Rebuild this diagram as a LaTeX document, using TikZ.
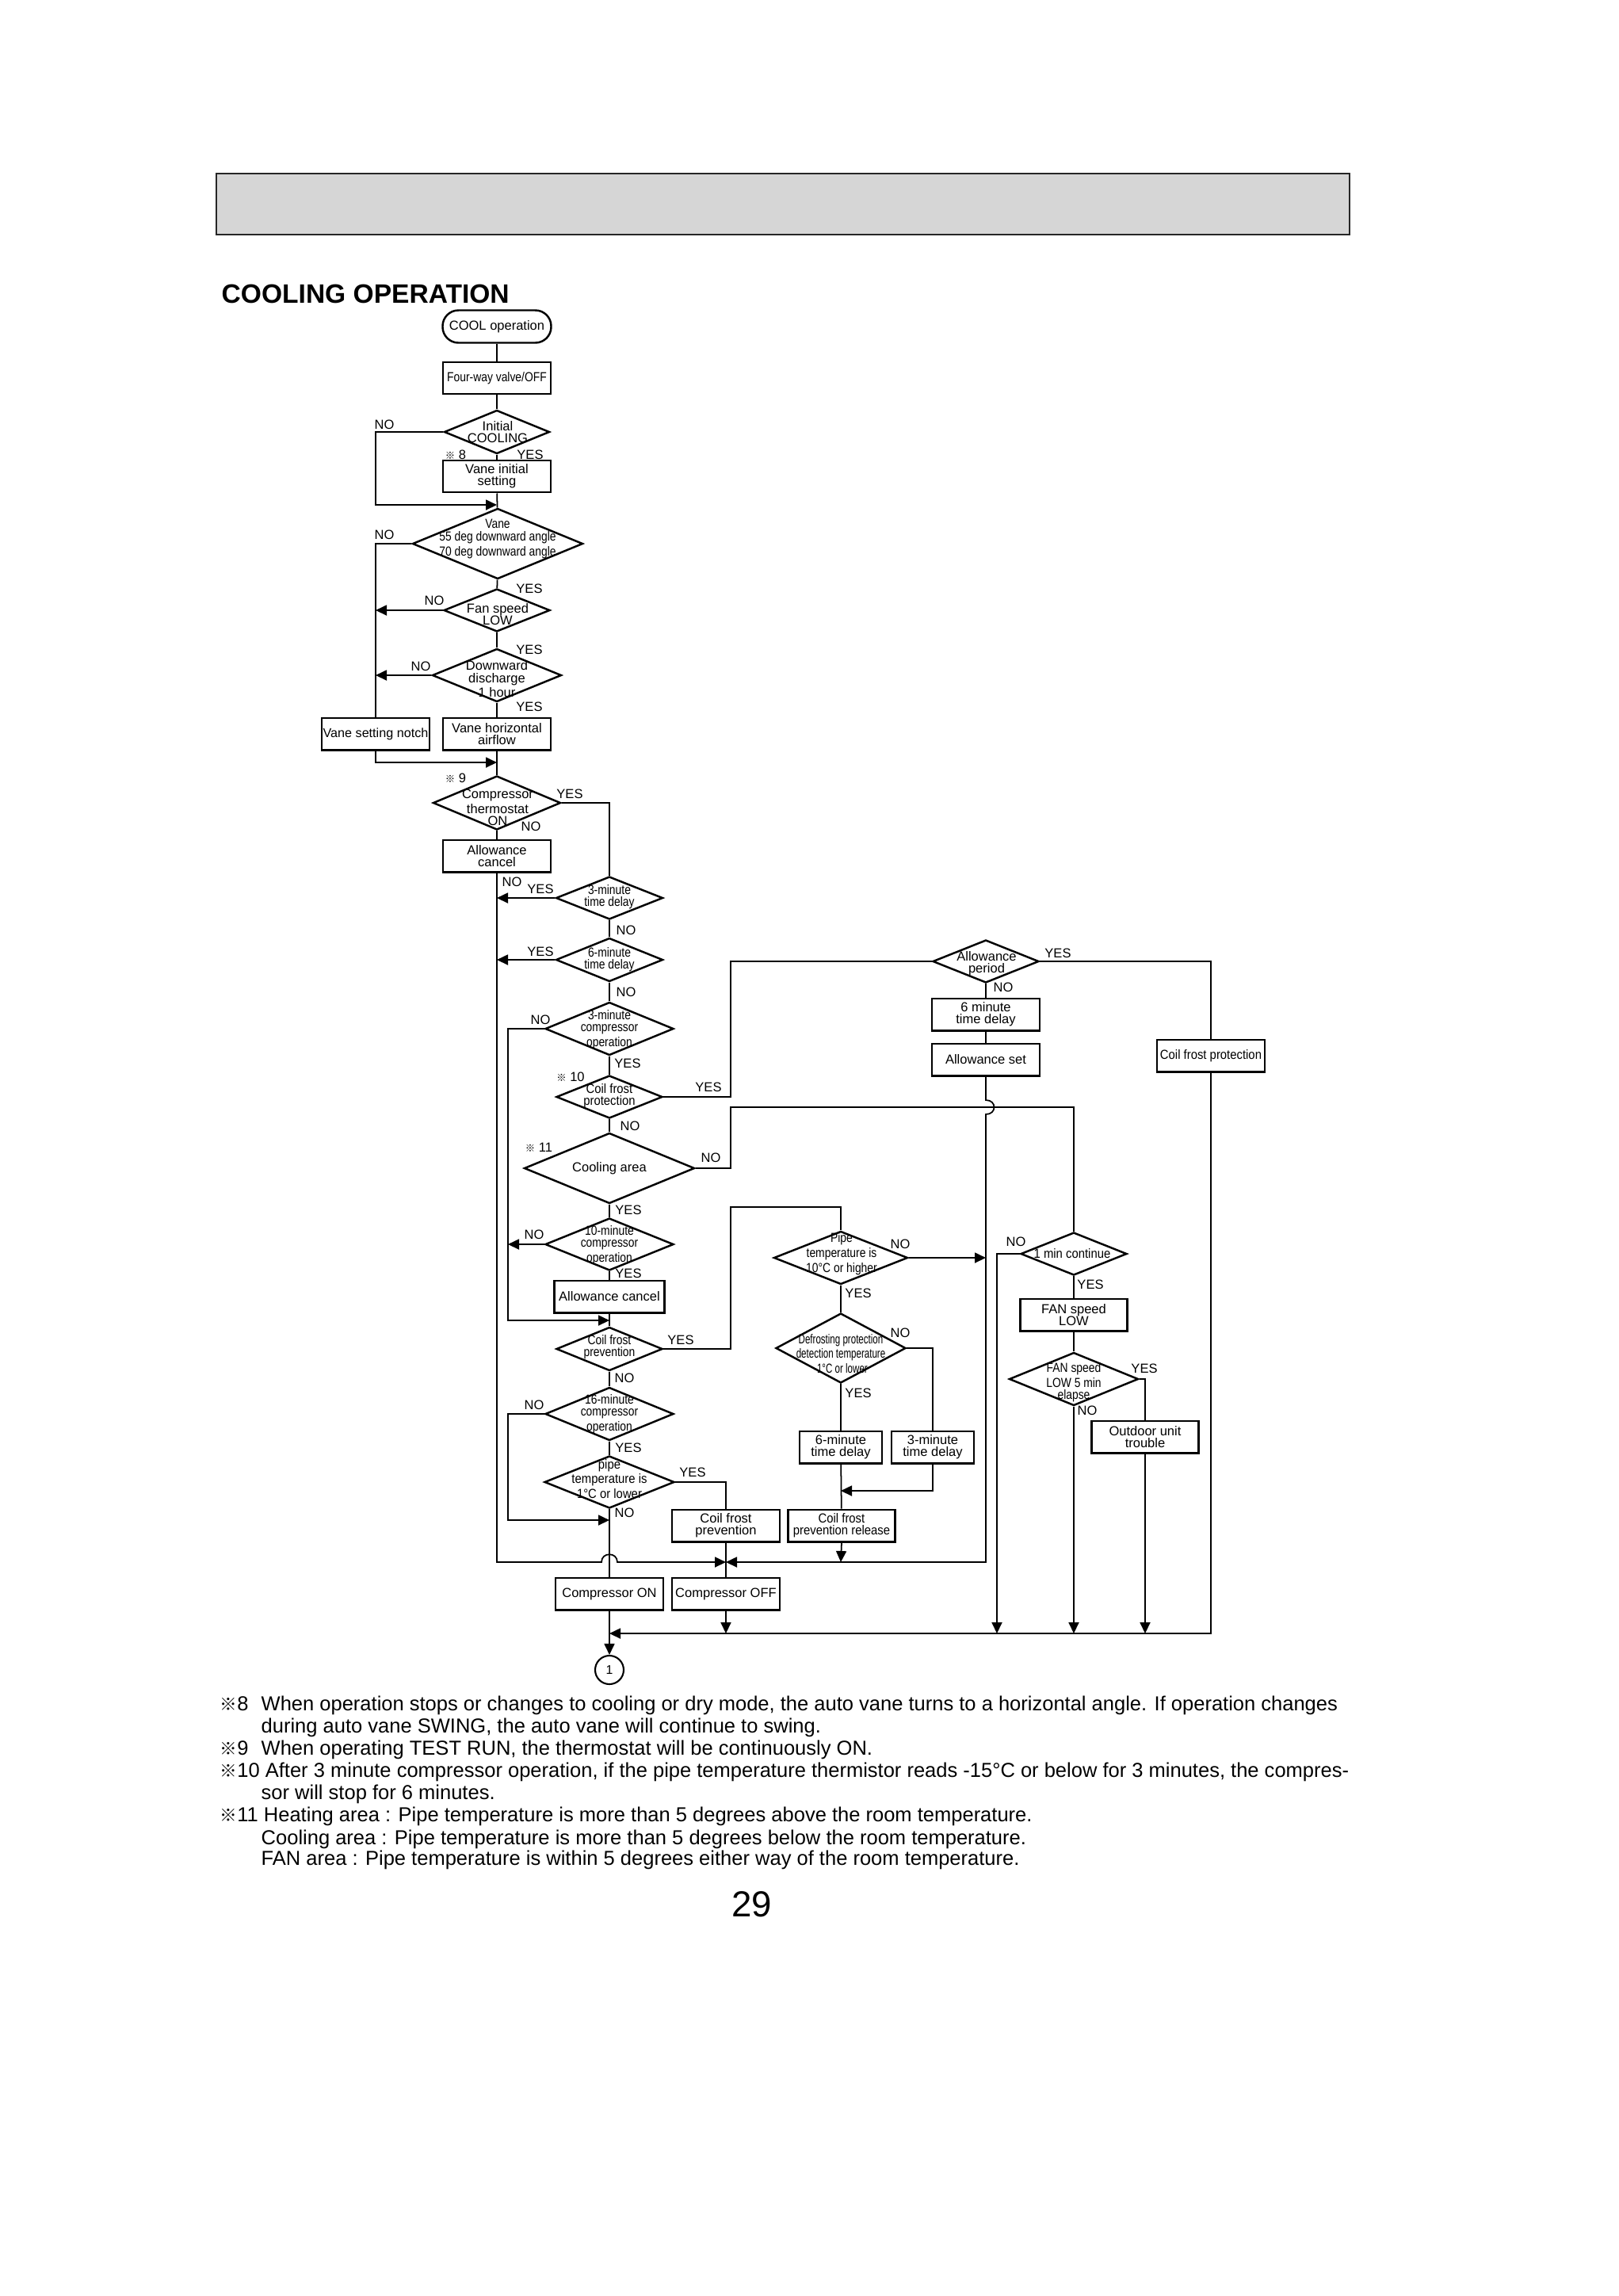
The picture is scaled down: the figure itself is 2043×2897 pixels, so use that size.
\documentclass[tikz,border=0pt]{standalone}
\usepackage{fontspec}
\setmainfont{Liberation Sans}
\newfontfamily\fcA[FakeStretch=0.84]{Liberation Sans}
\newfontfamily\fcB[FakeStretch=0.9]{Liberation Sans}
\newfontfamily\fcC[FakeStretch=0.7]{Liberation Sans}
\newfontfamily\cjkf[Scale=0.75]{Noto Sans CJK JP}
\newfontfamily\cjkg[Scale=0.85]{Noto Sans CJK JP}
\usetikzlibrary{shapes.geometric,arrows.meta}
\newcommand\fsz{\fontsize{4.7}{4.3}\selectfont}
\newcommand\kome{{\cjkf ※}}
\newcommand\komeF{{\cjkg ※}}
\newcommand\lab[3]{\node[txt] (#1) at (#2) {#3};}
\tikzset{
  box/.style={draw, line width=0.7pt, minimum width=13.6mm, minimum height=4.05mm, inner sep=0pt},
  dia/.style={draw, diamond, line width=0.7pt, inner sep=0pt},
  txt/.style={inner sep=0pt, align=center, font=\fsz},
  conn/.style={line width=0.5pt},
  arr/.style={line width=0.5pt, -{Triangle[length=1.4mm,width=1.3mm]}},
  foot/.style={inner sep=0pt, anchor=base west, font=\fontsize{7.26}{7.9}\selectfont},
}
\begin{document}
\begin{tikzpicture}[x=0.1mm,y=-0.1mm]
\fill[white] (0,0) rectangle (2043,2897);
\useasboundingbox (0,0) rectangle (2043,2897);

% header
\node[draw=black!85, line width=0.7pt, fill=black!16, minimum width=143mm, minimum height=7.7mm, inner sep=0pt] (header) at (988,257.5) {};
\node[inner sep=0pt, anchor=base west, font=\fontsize{9.55}{11}\selectfont\bfseries] (title) at (279,382) {COOLING OPERATION};

% top chain
\node[box,txt,rounded corners=2mm,minimum width=13.7mm,minimum height=4.1mm] (cool) at (627,412) {COOL operation};
\node[box,txt,font=\fsz\fcA] (fourway) at (627,477) {Four-way valve/OFF};
\node[dia,minimum width=13.3mm,minimum height=5.5mm] (init) at (627,545) {};
\node[txt] (initT) at (628,545) {Initial\\COOLING};
\node[box,txt] (vaneinit) at (627,601) {Vane initial\\setting};
\node[dia,minimum width=21.5mm,minimum height=8.9mm] (vane) at (628,686) {};
\node[txt,font=\fsz\fcA] (vaneT) at (628,680) {Vane\\55 deg downward angle\\70 deg downward angle};
\node[dia,minimum width=13.4mm,minimum height=5.4mm] (fan) at (627,770) {};
\node[txt] (fanT) at (628,775) {Fan speed\\LOW};
\node[dia,minimum width=16.3mm,minimum height=6.7mm] (down) at (627,852) {};
\node[txt] (downT) at (627,857) {Downward\\discharge\\1 hour};
\node[box,txt] (vhor) at (627,926) {Vane horizontal\\airflow};
\node[box,txt,font=\fontsize{4.6}{4.3}\selectfont] (vnotch) at (474,926) {Vane setting notch};
\node[dia,minimum width=16.1mm,minimum height=6.8mm] (comp) at (627,1013) {};
\node[txt] (compT) at (628,1019) {Compressor\\thermostat\\ON};
\node[box,txt] (allc1) at (627,1080) {Allowance\\cancel};

% middle chain
\node[dia,minimum width=13.5mm,minimum height=5.4mm] (t3) at (769,1133) {};
\node[txt,font=\fsz\fcA] (t3T) at (769,1132) {3-minute\\time delay};
\node[dia,minimum width=13.5mm,minimum height=5.5mm] (t6) at (769,1211) {};
\node[txt,font=\fsz\fcA] (t6T) at (769,1211) {6-minute\\time delay};
\node[dia,minimum width=16.2mm,minimum height=6.7mm] (c3) at (769,1298) {};
\node[txt,font=\fsz\fcA] (c3T) at (769,1299) {3-minute\\compressor\\operation};
\node[dia,minimum width=13.4mm,minimum height=5.4mm] (cfp) at (769,1384) {};
\node[txt,font=\fsz\fcB] (cfpT) at (769,1383) {Coil frost\\protection};
\node[dia,minimum width=21.5mm,minimum height=8.9mm] (carea) at (769,1474) {};
\node[txt] (careaT) at (769,1474) {Cooling area};
\node[dia,minimum width=16.2mm,minimum height=6.6mm] (c10) at (769,1570) {};
\node[txt,font=\fsz\fcA] (c10T) at (769,1571) {10-minute\\compressor\\operation};
\node[box,txt,minimum width=13.9mm] (allc2) at (769,1636) {Allowance cancel};
\node[dia,minimum width=13.4mm,minimum height=5.5mm] (cfprev) at (769,1702) {};
\node[txt,font=\fsz\fcA] (cfprevT) at (769,1700) {Coil frost\\prevention};
\node[dia,minimum width=16.2mm,minimum height=6.7mm] (c16) at (769,1784) {};
\node[txt,font=\fsz\fcA] (c16T) at (769,1784) {16-minute\\compressor\\operation};
\node[dia,minimum width=16.4mm,minimum height=6.6mm] (pipe1) at (769,1870) {};
\node[txt,font=\fsz\fcB] (pipe1T) at (769,1866) {pipe\\temperature is\\1°C or lower};
\node[box,txt] (compon) at (769,2011) {Compressor ON};
\node[box,txt] (compoff) at (916,2011) {Compressor OFF};
\node[draw,circle,line width=0.6pt,minimum size=3.6mm,inner sep=0pt,font=\fontsize{4.5}{5}\selectfont] (circ) at (769,2107) {1};

% right part
\node[box,txt] (cfprevbox) at (916,1925) {Coil frost\\prevention};
\node[dia,minimum width=16.9mm,minimum height=6.7mm] (pipe10) at (1061,1587) {};
\node[txt,font=\fsz\fcA] (pipe10T) at (1062,1582) {Pipe\\temperature is\\10°C or higher};
\node[dia,minimum width=16.4mm,minimum height=8.8mm] (defrost) at (1061,1701) {};
\node[txt,font=\fsz\fcC] (defrostT) at (1061,1708) {Defrosting protection\\detection temperature\\-1°C or lower};
\node[box,txt,minimum width=10.4mm] (d6) at (1061,1826) {6-minute\\time delay};
\node[box,txt,minimum width=10.4mm] (d3) at (1177,1826) {3-minute\\time delay};
\node[box,txt,minimum width=13.5mm,font=\fsz\fcB] (cfrel) at (1062,1925) {Coil frost\\prevention release};
\node[dia,minimum width=13.4mm,minimum height=5.4mm] (allp) at (1244,1213) {};
\node[txt] (allpT) at (1245,1216) {Allowance\\period};
\node[box,txt] (d6m) at (1244,1280) {6 minute\\time delay};
\node[box,txt] (allset) at (1244,1337) {Allowance set};
\node[box,txt,font=\fsz\fcB] (cfpbox) at (1528,1332) {Coil frost protection};
\node[dia,minimum width=13.4mm,minimum height=5.4mm] (min1) at (1355,1582) {};
\node[txt,font=\fsz\fcB] (min1T) at (1353,1582) {1 min continue};
\node[box,txt,minimum width=13.5mm] (fanlow) at (1355,1659) {FAN speed\\LOW};
\node[dia,minimum width=16.3mm,minimum height=6.7mm] (fan5) at (1355,1740) {};
\node[txt,font=\fsz\fcA] (fan5T) at (1355,1744) {FAN speed\\LOW 5 min\\elapse};
\node[box,txt,minimum width=13.5mm] (outdoor) at (1445,1813) {Outdoor unit\\trouble};

% coordinates
\coordinate (m1) at (627,637);
\coordinate (jA) at (474,637);
\coordinate (m2) at (627,962);
\coordinate (mOff) at (916,1971);
\coordinate (bumpA) at (759,1971);
\coordinate (bumpB) at (779,1971);
\coordinate (cL1) at (641,1666);
\coordinate (m3) at (769,1666);
\coordinate (cL2) at (641,1918);
\coordinate (m4) at (769,1918);
\coordinate (colR) at (922,1213);
\coordinate (colR2) at (922,1397);
\coordinate (colR2b) at (1355,1397);
\coordinate (colR3) at (922,1523);
\coordinate (botR) at (1528,2061);
\coordinate (botL) at (769,2061);
\coordinate (jmpA) at (1244,1388);
\coordinate (jmpB) at (1244,1406);
\coordinate (mR) at (1244,1971);
\coordinate (pR) at (1244,1587);
\coordinate (mRel) at (1061,1971);
\coordinate (m5) at (1061,1881);
\coordinate (b1) at (1258,2061);

% connectors top
\draw[conn] (cool) -- (fourway);
\draw[conn] (fourway) -- (init);
\draw[conn] (init) -- (vaneinit);
\draw[conn] (vaneinit) -- (vane);
\draw[arr] (init.west) -| (jA) -- (m1);
\draw[conn] (vane) -- (fan);
\draw[conn] (fan) -- (down);
\draw[conn] (down) -- (vhor);
\draw[conn] (vane.west) -| (vnotch.north);
\draw[arr] (fan.west) -- (fan.west -| vnotch.north);
\draw[arr] (down.west) -- (down.west -| vnotch.north);
\draw[arr] (vnotch.south) |- (m2);
\draw[conn] (vhor) -- (comp);
\draw[conn] (comp) -- (allc1);
\draw[conn] (comp.east) -| (t3.north);
\draw[arr] (t3.west) -- (t3.west -| allc1.south);
\draw[arr] (t6.west) -- (t6.west -| allc1.south);
\draw[arr] (allc1.south) |- (bumpA) .. controls (759,1958) and (779,1958) .. (bumpB) -- (mOff);

% middle connectors
\draw[conn] (t3) -- (t6);
\draw[conn] (t6) -- (c3);
\draw[conn] (c3) -- (cfp);
\draw[conn] (cfp) -- (carea);
\draw[conn] (carea) -- (c10);
\draw[conn] (c10) -- (allc2);
\draw[conn] (allc2) -- (cfprev);
\draw[conn] (cfprev) -- (c16);
\draw[conn] (c16) -- (pipe1);
\draw[conn] (pipe1) -- (compon);
\draw[arr] (c3.west) -| (cL1) -- (m3);
\draw[arr] (c10.west) -- (c10.west -| cL1);
\draw[arr] (c16.west) -| (cL2) -- (m4);
\draw[conn] (cfp.east) -| (colR) -- (allp.west);
\draw[conn] (carea.east) -| (colR2) -- (colR2b) -- (min1.north);
\draw[conn] (cfprev.east) -| (colR3) -| (pipe10.north);
\draw[conn] (pipe1.east) -| (cfprevbox.north);
\draw[conn] (cfprevbox.south) -- (mOff) -- (compoff.north);
\draw[arr] (compoff.south) -- (compoff.south |- botL);
\draw[arr] (compon.south) -- (circ.north);
\draw[arr] (cfpbox.south) -- (botR) -- (botL);

% right connectors
\draw[conn] (allp.east) -| (cfpbox.north);
\draw[conn] (allp) -- (d6m);
\draw[conn] (d6m) -- (allset);
\draw[arr] (allset.south) -- (jmpA) .. controls (1258,1388) and (1258,1406) .. (jmpB) -- (mR) -- (mOff);
\draw[arr] (pipe10.east) -- (pR);
\draw[conn] (pipe10) -- (defrost);
\draw[conn] (defrost) -- (d6);
\draw[conn] (d6) -- (cfrel);
\draw[arr] (cfrel.south) -- (mRel);
\draw[conn] (defrost.east) -| (d3.north);
\draw[arr] (d3.south) |- (m5);
\draw[arr] (min1.west) -| (b1);
\draw[conn] (min1) -- (fanlow);
\draw[conn] (fanlow) -- (fan5);
\draw[arr] (fan5.south) -- (fan5.south |- botR);
\draw[conn] (fan5.east) -| (outdoor.north);
\draw[arr] (outdoor.south) -- (outdoor.south |- botR);

% labels
\lab{l1}{485,536}{NO}
\lab{l2}{575,574}{\kome\ 8}
\lab{l3}{669,574}{YES}
\lab{l4}{485,675}{NO}
\lab{l5}{668,743}{YES}
\lab{l6}{548,758}{NO}
\lab{l7}{668,820}{YES}
\lab{l8}{531,841}{NO}
\lab{l9}{668,892}{YES}
\lab{l10}{575,982}{\kome\ 9}
\lab{l11}{719,1002}{YES}
\lab{l12}{670,1043}{NO}
\lab{l13}{646,1113}{NO}
\lab{l14}{682,1122}{YES}
\lab{l15}{790,1174}{NO}
\lab{l16}{682,1201}{YES}
\lab{l17}{790,1252}{NO}
\lab{l18}{682,1287}{NO}
\lab{l19}{792,1342}{YES}
\lab{l20}{720,1359}{\kome\ 10}
\lab{l21}{894,1372}{YES}
\lab{l22}{795,1421}{NO}
\lab{l23}{680,1448}{\kome\ 11}
\lab{l24}{897,1461}{NO}
\lab{l25}{793,1527}{YES}
\lab{l26}{674,1558}{NO}
\lab{l27}{793,1607}{YES}
\lab{l28}{859,1691}{YES}
\lab{l29}{788,1739}{NO}
\lab{l30}{674,1773}{NO}
\lab{l31}{793,1827}{YES}
\lab{l32}{874,1858}{YES}
\lab{l33}{788,1909}{NO}
\lab{l34}{1136,1570}{NO}
\lab{l35}{1083,1632}{YES}
\lab{l36}{1136,1682}{NO}
\lab{l37}{1083,1758}{YES}
\lab{l38}{1335,1203}{YES}
\lab{l39}{1266,1246}{NO}
\lab{l40}{1282,1567}{NO}
\lab{l41}{1376,1621}{YES}
\lab{l42}{1444,1727}{YES}
\lab{l43}{1372,1780}{NO}

% footnotes
\node[foot] (f8a) at (277,2158) {\komeF8};
\node[foot] (f8b) at (329,2158) {When operation stops or changes to cooling or dry mode, the auto vane turns to a horizontal angle. If operation changes};
\node[foot] (f8c) at (329,2186) {during auto vane SWING, the auto vane will continue to swing.};
\node[foot] (f9a) at (277,2214) {\komeF9};
\node[foot] (f9b) at (329,2214) {When operating TEST RUN, the thermostat will be continuously ON.};
\node[foot] (f10a) at (277,2242) {\komeF10 After 3 minute compressor operation, if the pipe temperature thermistor reads -15°C or below for 3 minutes, the compres-};
\node[foot] (f10b) at (329,2270) {sor will stop for 6 minutes.};
\node[foot] (f11a) at (277,2298) {\komeF11 Heating area : Pipe temperature is more than 5 degrees above the room temperature.};
\node[foot] (f11b) at (329,2327) {Cooling area : Pipe temperature is more than 5 degrees below the room temperature.};
\node[foot] (f11c) at (329,2353) {FAN area : Pipe temperature is within 5 degrees either way of the room temperature.};

\node[inner sep=0pt, anchor=base, font=\fontsize{13}{15}\selectfont] (pg) at (949,2418) {29};
\end{tikzpicture}
\end{document}
